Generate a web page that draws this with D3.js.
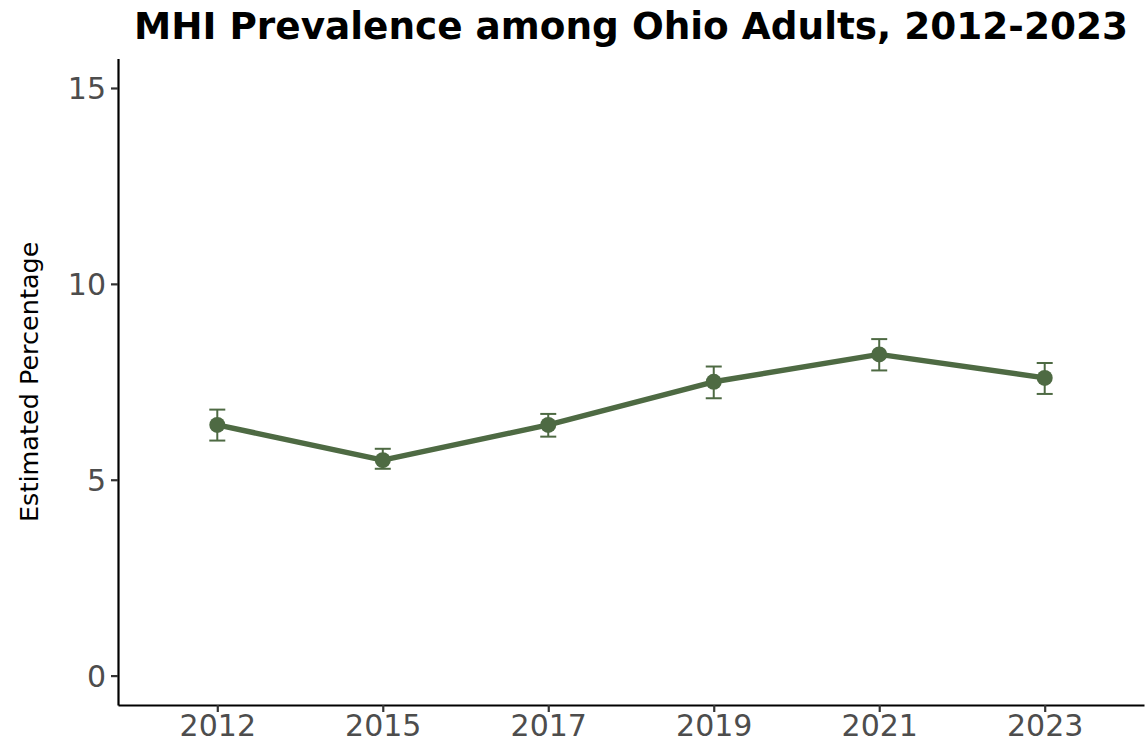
<!DOCTYPE html>
<html><head><meta charset="utf-8">
<script src="https://cdn.jsdelivr.net/npm/d3@7/dist/d3.min.js"></script>
<style>body{margin:0;background:#fff}svg{display:block}</style>
</head><body>
<script>
const years = ["2012","2015","2017","2019","2021","2023"];
const estimates = [6.4, 5.5, 6.4, 7.5, 8.2, 7.6];
const lowerCI = [6.0, 5.28, 6.1, 7.08, 7.79, 7.19];
const upperCI = [6.79, 5.79, 6.68, 7.89, 8.59, 7.98];
const yTicks = [0, 5, 10, 15];

const W = 1145, H = 744;
const m = {left:118, right:1, top:58.6, bottom:39};
const color = "#4E6A43";
const svg = d3.select("body").append("svg").attr("width", W).attr("height", H);

const x = d3.scalePoint().domain(years).range([m.left, W - m.right]).padding(0.6);
const y = d3.scaleLinear().domain([-0.75, 15.75]).range([H - m.bottom, m.top]);

const data = years.map((yr,i)=>({yr, v:estimates[i], lo:lowerCI[i], hi:upperCI[i]}));

// axes
const yAxis = svg.append("g").attr("transform",`translate(${m.left},0)`)
  .call(d3.axisLeft(y).tickValues(yTicks).tickSize(7).tickSizeOuter(0).tickPadding(5));
const xAxis = svg.append("g").attr("transform",`translate(0,${H-m.bottom})`)
  .call(d3.axisBottom(x).tickSize(7).tickSizeOuter(0).tickPadding(3));
[yAxis,xAxis].forEach(g=>{
  g.select(".domain").attr("stroke","#000").attr("stroke-width",2.2);
  g.selectAll(".tick line").attr("stroke","#333").attr("stroke-width",2.2);
  g.selectAll(".tick text").attr("fill","#4D4D4D").style("font-family","DejaVu Sans").style("font-size","30px");
});
yAxis.selectAll(".tick text").attr("dy","0.36em");

// error bars
const eb = svg.append("g").attr("stroke",color).attr("stroke-width",2);
data.forEach(d=>{
  const cx = x(d.yr);
  eb.append("line").attr("x1",cx).attr("x2",cx).attr("y1",y(d.lo)).attr("y2",y(d.hi));
  eb.append("line").attr("x1",cx-8).attr("x2",cx+8).attr("y1",y(d.lo)).attr("y2",y(d.lo));
  eb.append("line").attr("x1",cx-8).attr("x2",cx+8).attr("y1",y(d.hi)).attr("y2",y(d.hi));
});

// line
svg.append("path").datum(data)
  .attr("fill","none").attr("stroke",color).attr("stroke-width",5.5).attr("stroke-linejoin","round")
  .attr("d", d3.line().x(d=>x(d.yr)).y(d=>y(d.v)));

// points
svg.append("g").selectAll("circle").data(data).join("circle")
  .attr("cx",d=>x(d.yr)).attr("cy",d=>y(d.v)).attr("r",8).attr("fill",color);

// title
svg.append("text").attr("x",(m.left + W - m.right)/2).attr("y",39)
  .attr("text-anchor","middle").style("font-family","DejaVu Sans").style("font-weight","bold")
  .style("font-size","37.4px").attr("fill","#000").text("MHI Prevalence among Ohio Adults, 2012-2023");

// y title
svg.append("text").attr("transform",`translate(38,${(m.top + H - m.bottom)/2}) rotate(-90)`)
  .attr("text-anchor","middle").style("font-family","DejaVu Sans").style("font-size","25.5px")
  .attr("fill","#000").text("Estimated Percentage");
</script>
</body></html>
